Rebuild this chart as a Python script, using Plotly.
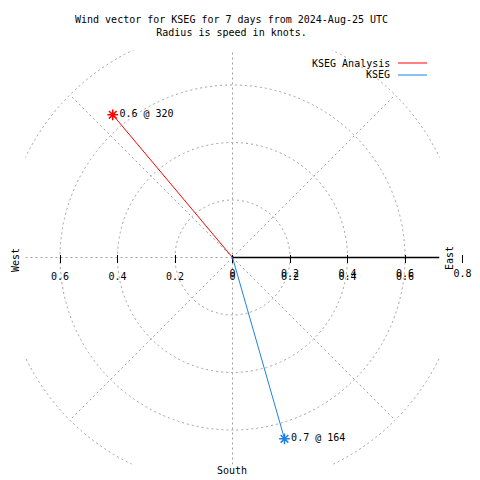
import numpy as np
import plotly.graph_objects as go

# ---------------- data ----------------
series_names = ["KSEG Analysis", "KSEG"]
wind_speed_kt = [0.648, 0.656]
wind_dir_deg = [320, 164]
point_labels = ["0.6 @ 320", "0.7 @ 164"]
series_colors = ["#ff0000", "#1e80e6"]

ring_radii = [0.2, 0.4, 0.6, 0.8]
spoke_dirs = [45, 135, 225, 315]
low_tick_vals = [-0.6, -0.4, -0.2, 0.0, 0.2, 0.4, 0.6, 0.8]
low_tick_text = ["0.6", "0.4", "0.2", "0", "0.2", "0.4", "0.6", ""]
high_tick_vals = [0.0, 0.2, 0.4, 0.6, 0.8]
high_tick_text = ["0", "0.2", "0.4", "0.6", "0.8"]

title_lines = ["Wind vector for KSEG for 7 days from 2024-Aug-25 UTC",
               "Radius is speed in knots."]

# ---------------- geometry ----------------
OFF = 8                      # page body margin in the browser
W = H = 480 - OFF            # figure fits the window exactly
CX, CY = 232.5, 257.5        # window-pixel position of the origin
SCALE = 287.5                # pixels per knot
LIM = 0.72                   # half-size of the clipped plot square (knots)
half = LIM * SCALE
FONT = "DejaVu Sans Mono"
GRID = "#a0a0a0"


def fx(px):
    return (px - OFF) / W


def fy(py):
    return 1 - (py - OFF) / H


dom_x = [fx(CX - half), fx(CX + half)]
dom_y = [fy(CY + half), fy(CY - half)]

fig = go.Figure()

# empty traces that create the cartesian helper subplots
fig.add_trace(go.Scatter(x=[], y=[], xaxis="x", yaxis="y", showlegend=False, hoverinfo="skip"))
fig.add_trace(go.Scatter(x=[], y=[], xaxis="x2", yaxis="y2", showlegend=False, hoverinfo="skip"))
fig.add_trace(go.Scatter(x=[], y=[], xaxis="x3", yaxis="y2", showlegend=False, hoverinfo="skip"))

# wind vectors (polar)
for name, spd, d, lab, col in zip(series_names, wind_speed_kt, wind_dir_deg, point_labels, series_colors):
    fig.add_trace(go.Scatterpolar(
        r=[0, spd], theta=[d, d], mode="lines", name=name,
        line=dict(color=col, width=1), showlegend=False, hoverinfo="skip"))
    fig.add_trace(go.Scatterpolar(
        r=[spd], theta=[d], mode="markers+text", name=name,
        marker=dict(symbol="asterisk-open", size=9, color=col, line=dict(color=col, width=1.5)),
        text=[lab], textposition="middle right",
        textfont=dict(family=FONT, size=10, color="black"),
        showlegend=False, hoverinfo="skip"))

shapes = []
# grid rings
for r in ring_radii:
    shapes.append(dict(type="circle", xref="x", yref="y", x0=-r, y0=-r, x1=r, y1=r,
                       line=dict(color=GRID, width=1, dash="2px,3px"), layer="below"))
# diagonal spokes
Rmax = max(ring_radii)
for a in spoke_dirs:
    t = np.deg2rad(a)
    shapes.append(dict(type="line", xref="x", yref="y", x0=0, y0=0,
                       x1=Rmax * np.sin(t), y1=Rmax * np.cos(t),
                       line=dict(color=GRID, width=1, dash="2px,3px"), layer="below"))
# vertical axis (dashed) and west half (dashed)
shapes.append(dict(type="line", xref="x", yref="y", x0=0, y0=-LIM, x1=0, y1=LIM,
                   line=dict(color=GRID, width=1, dash="2px,3px"), layer="below"))
shapes.append(dict(type="line", xref="x", yref="y", x0=-LIM, y0=0, x1=0, y1=0,
                   line=dict(color=GRID, width=1, dash="2px,3px"), layer="below"))
# radial axis (solid black, east half)
shapes.append(dict(type="line", xref="x", yref="y", x0=0, y0=0, x1=LIM, y1=0,
                   line=dict(color="black", width=1.5), layer="below"))

# legend samples
legend_y = [63, 75]
for col, ly in zip(series_colors, legend_y):
    shapes.append(dict(type="line", xref="paper", yref="paper",
                       x0=fx(398), x1=fx(427), y0=fy(ly), y1=fy(ly),
                       line=dict(color=col, width=1)))

annotations = []
annotations.append(dict(text="<br>".join(title_lines), xref="paper", yref="paper",
                        x=fx(231.5), y=fy(26.5), xanchor="center", yanchor="middle",
                        showarrow=False, align="center",
                        font=dict(family=FONT, size=10, color="black")))
for name, ly in zip(series_names, legend_y):
    annotations.append(dict(text=name, xref="paper", yref="paper", x=fx(392), y=fy(ly),
                            xanchor="right", yanchor="middle", showarrow=False,
                            font=dict(family=FONT, size=10, color="black")))
annotations.append(dict(text="West", xref="paper", yref="paper", x=fx(15), y=fy(260),
                        xanchor="center", yanchor="middle", textangle=-90, showarrow=False,
                        font=dict(family=FONT, size=10, color="black")))
annotations.append(dict(text="East", xref="paper", yref="paper", x=fx(449), y=fy(258),
                        xanchor="center", yanchor="middle", textangle=-90, showarrow=False,
                        font=dict(family=FONT, size=10, color="black")))
annotations.append(dict(text="South", xref="paper", yref="paper", x=fx(231.5), y=fy(470),
                        xanchor="center", yanchor="middle", showarrow=False,
                        font=dict(family=FONT, size=10, color="black")))

full_range = [-(CX - OFF) / SCALE, (OFF + W - CX) / SCALE]
tickfont = dict(family=FONT, size=10, color="black")

fig.update_layout(
    width=W, height=H, autosize=False,
    margin=dict(l=0, r=0, t=0, b=0),
    paper_bgcolor="white", plot_bgcolor="rgba(0,0,0,0)",
    showlegend=False,
    xaxis=dict(domain=dom_x, range=[-LIM, LIM], visible=False, fixedrange=True),
    yaxis=dict(domain=dom_y, range=[-LIM, LIM], visible=False, fixedrange=True),
    yaxis2=dict(domain=[0, 1], range=[-1, 1], visible=False, fixedrange=True),
    xaxis2=dict(domain=[0, 1], range=full_range, anchor="free", position=fy(254),
                tickmode="array", tickvals=low_tick_vals, ticktext=low_tick_text,
                ticks="outside", ticklen=8, tickwidth=1, tickcolor="black",
                showline=False, showgrid=False, zeroline=False,
                ticklabelstandoff=5, tickfont=tickfont, fixedrange=True),
    xaxis3=dict(domain=[0, 1], range=full_range, anchor="free", position=fy(250),
                tickmode="array", tickvals=high_tick_vals, ticktext=high_tick_text,
                ticks="outside", ticklen=8, tickwidth=1, tickcolor="rgba(0,0,0,0)",
                showline=False, showgrid=False, zeroline=False,
                ticklabelstandoff=6, tickfont=tickfont, fixedrange=True),
    polar=dict(
        domain=dict(x=dom_x, y=dom_y),
        bgcolor="rgba(0,0,0,0)",
        radialaxis=dict(range=[0, LIM], visible=False, showgrid=False, showline=False),
        angularaxis=dict(rotation=90, direction="clockwise", visible=False,
                         showgrid=False, showline=False),
    ),
    shapes=shapes,
    annotations=annotations,
)

fig.write_html("out.html")
